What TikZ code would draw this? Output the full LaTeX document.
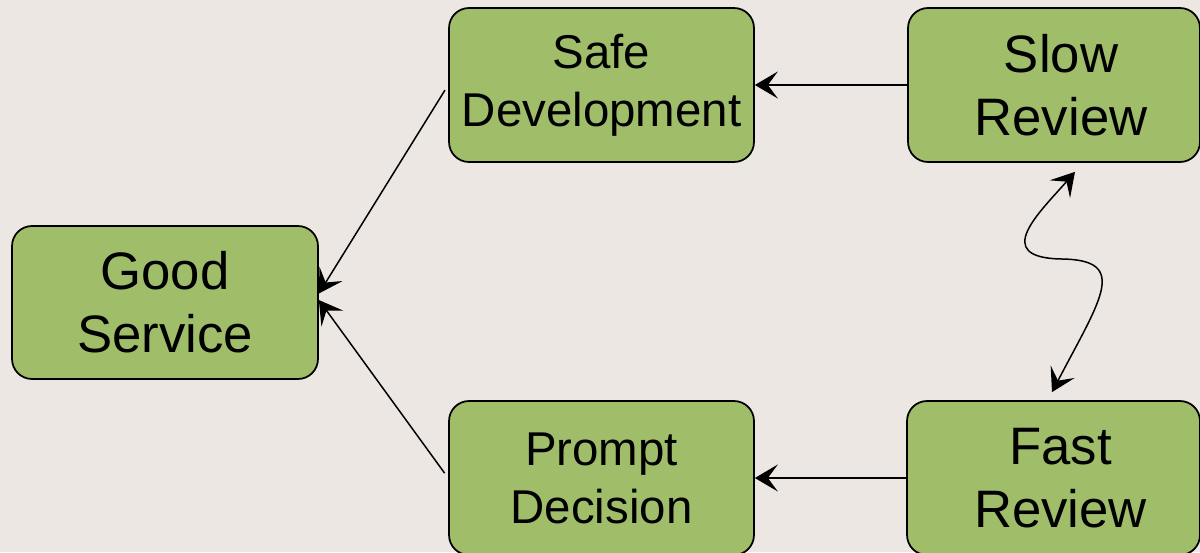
\documentclass[tikz,border=0pt]{standalone}
\usepackage{fontspec}
\setmainfont{Liberation Sans}
\usepackage{tikz}
\usetikzlibrary{positioning,arrows.meta,calc}
\definecolor{paper}{RGB}{236,231,227}
\definecolor{leaf}{RGB}{160,190,106}
\newcommand{\midtext}{\fontsize{27}{33}\selectfont}
\newcommand{\bigtext}{\fontsize{30}{36}\selectfont}
\newcommand{\nudge}{\hspace*{0.28cm}}

\begin{document}
\begin{tikzpicture}[x=0.02cm,y=0.02cm]
		\tikzstyle{box}=[draw=black, line width=1pt, fill=leaf, rounded corners=0.4cm, align=center, inner sep=0pt, minimum height=3.08cm]
		\tikzstyle{link}=[draw=black, line width=0.85pt, -{Stealth[length=0.46cm,width=0.54cm,inset=0.2cm]}]
		\useasboundingbox (0,0) rectangle (1200,-552);
		\fill [paper] (0,0) rectangle (1200,-552);
		% boxes
		\node [box, font=\bigtext, minimum width=6.12cm, minimum height=3.06cm] (good) at (165,-302.5) {Good\\Service};
		\node [box, font=\midtext, minimum width=6.1cm] (safe) at (601.5,-85) {Safe\\Development};
		\node [box, font=\bigtext, minimum width=5.84cm] (slow) at (1054,-85) {\nudge Slow\\\nudge Review};
		\node [box, font=\midtext, minimum width=6.1cm] (prompt) at (601.5,-478) {Prompt\\Decision};
		\node [box, font=\bigtext, minimum width=5.86cm] (fast) at (1053.5,-478) {\nudge Fast\\\nudge Review};
		% arrows
		\draw [link] (slow.west) -- (safe.east);
		\draw [link] (fast.west) -- (prompt.east);
		\draw [link, shorten <=0.12cm] (safe.west) -- ([yshift=0.18cm]good.east);
		\draw [link, shorten <=0.12cm] (prompt.west) -- ([yshift=0.05cm]good.east);
		% wavy two-way link
		\coordinate (wtop) at ([xshift=0.42cm,yshift=-0.18cm]slow.south);
		\coordinate (wbot) at ([xshift=-0.03cm,yshift=0.16cm]fast.north);
		\draw [link, {Stealth[length=0.46cm,width=0.54cm,inset=0.2cm]}-{Stealth[length=0.46cm,width=0.54cm,inset=0.2cm]}]
			(wtop) .. controls (1040,-212) and (990,-258) .. (1062,-259)
			.. controls (1130,-260) and (1100,-300) .. (wbot);
\end{tikzpicture}
\end{document}
